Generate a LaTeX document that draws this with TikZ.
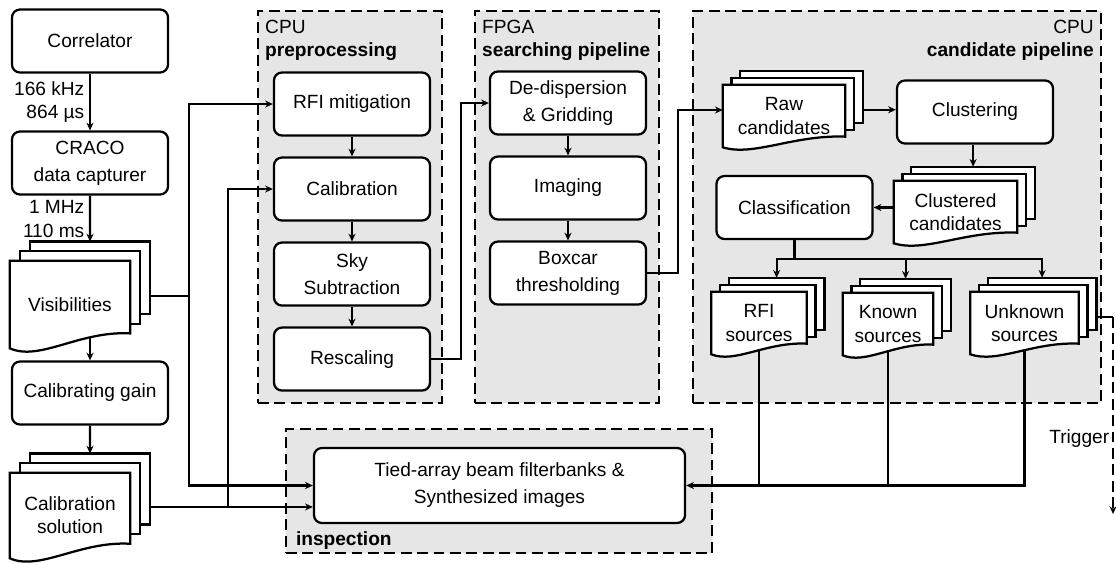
\documentclass[tikz,border=0pt]{standalone}
\usepackage{fontspec}
\setmainfont{Liberation Sans}
\usepackage{tikz}
\usetikzlibrary{arrows.meta, fit, calc}
\definecolor{groupgrey}{HTML}{E6E6E6}
\pgfdeclarelayer{bg}
\pgfdeclarelayer{wires}
\pgfdeclarelayer{docs}
\pgfsetlayers{bg,wires,docs,main}
\tikzstyle{box} = [rectangle, rounded corners=0.2cm, minimum width=3.9cm, minimum height=1.575cm, text centered, align=center, draw=black, line width=1.6pt, fill=white, font=\fontsize{13.6}{19.2}\selectfont]
\tikzstyle{doc} = [rectangle, inner sep=0pt, text centered, align=center, font=\fontsize{13.6}{16.5}\selectfont]
\tikzstyle{sheet} = [draw=black, fill=white, line width=1.6pt]
\tikzstyle{group} = [rectangle, draw=black, fill=groupgrey, line width=1.5pt, dash pattern=on 0.27cm off 0.14cm, inner sep=0pt]
\tikzstyle{grouplabel} = [inner xsep=0.2cm, inner ysep=0.25cm, font=\fontsize{13.6}{16}\selectfont]
\tikzstyle{rate} = [align=right, font=\fontsize{13.6}{17}\selectfont]
\tikzstyle{line} = [line width=1.45pt]
\tikzstyle{arrow} = [line width=1.45pt, -{Stealth[length=5.5pt,width=5pt]}]

% stack of three sheets behind a doc node, wavy bottom on the front one
% #1 node, #2 x step, #3 y step
\newcommand{\docstack}[3]{%
  \begin{pgfonlayer}{docs}
    \foreach \k in {2,1}
      \draw[sheet] let \p1=(#1.north west), \p2=(#1.south east), \n1={0.17*(\y1-\y2)} in
        (\x1+\k*#2,\y1+\k*#3) rectangle (\x2+\k*#2,\y2+\n1+\k*#3);
    \draw[sheet] let \p1=(#1.north west), \p2=(#1.south east), \n1={0.17*(\y1-\y2)}, \n2={\x2-\x1} in
      (\x1,\y1) -- (\x2,\y1) -- (\x2,\y2+\n1)
      .. controls (\x2-0.42*\n2,\y2+1.2*\n1) and (\x1+0.25*\n2,\y2-0.9*\n1) .. (\x1,\y2) -- cycle;
  \end{pgfonlayer}
  \path let \p1=(#1.north west), \p2=(#1.south east) in
    (\x1/2+\x2/2+2*#2,\y1+2*#3) coordinate (#1-top)
    (\x2+2*#2,\y1/2+\y2/2+0.1*\y1-0.1*\y2) coordinate (#1-east);
}

\begin{document}
\begin{tikzpicture}[x=0.025cm, y=-0.025cm, node distance=2.125cm]
  \useasboundingbox (0,0) rectangle (1116,562);

  % dashed groups
  \begin{pgfonlayer}{bg}
    \node (pre) [group, fit={(258,11) (442,403)}] {};
    \node (fpga) [group, fit={(475,11) (659,403)}] {};
    \node (cand) [group, fit={(693,11) (1101,403)}] {};
    \node (insp) [group, fit={(286,429) (712,553)}] {};
  \end{pgfonlayer}
  \node (prelbl) [grouplabel, anchor=north west, align=left] at (pre.north west) {CPU\\\textbf{preprocessing}};
  \node (fpgalbl) [grouplabel, anchor=north west, align=left] at (fpga.north west) {FPGA\\\textbf{searching pipeline}};
  \node (candlbl) [grouplabel, anchor=north east, align=right] at (cand.north east) {CPU\\\textbf{candidate pipeline}};
  \node (insplbl) [grouplabel, anchor=south west, inner xsep=0.27cm, inner ysep=0.1cm] at (insp.south west) {\textbf{inspection}};

  % input side
  \node (corr) [box] at (90,41) {Correlator};
  \node (craco) [box] at (90,163) {CRACO\\data capturer};
  \node (vis) [doc, minimum width=3cm, minimum height=2.175cm] at (70,304.5) {Visibilities};
  \node (gain) [box] at (90,393) {Calibrating gain};
  \node (sol) [doc, minimum width=3cm, minimum height=2.125cm] at (70,515.5) {Calibration\\solution};

  % preprocessing
  \node (rfi) [box] at (352,104) {RFI mitigation};
  \node (calib) [box, below of=rfi] {Calibration};
  \node (sky) [box, below of=calib] {Sky\\Subtraction};
  \node (resc) [box, below of=sky] {Rescaling};

  % searching pipeline
  \node (dedisp) [box] at (568,103) {De-dispersion\\\& Gridding};
  \node (imaging) [box, below of=dedisp] {Imaging};
  \node (boxcar) [box, below of=imaging] {Boxcar\\thresholding};

  % candidate pipeline
  \node (raw) [doc, minimum width=3.05cm, minimum height=1.55cm] at (784,116) {Raw\\candidates};
  \node (clust) [box] at (975,112) {Clustering};
  \node (clustered) [doc, minimum width=3.075cm, minimum height=1.55cm] at (955.5,212) {Clustered\\candidates};
  \node (classif) [box] at (794.5,207.5) {Classification};
  \node (rfisrc) [doc, minimum width=2.375cm, minimum height=1.55cm] at (759,323) {RFI\\sources};
  \node (knownsrc) [doc, minimum width=2.25cm, minimum height=1.55cm] at (888,324) {Known\\sources};
  \node (unknownsrc) [doc, minimum width=2.7cm, minimum height=1.55cm] at (1024.5,323) {Unknown\\sources};

  % inspection
  \node (tied) [box, minimum width=9.275cm, minimum height=1.875cm] at (499.5,485.5) {Tied-array beam filterbanks \&\\Synthesized images};

  \docstack{vis}{0.25cm}{0.24cm}
  \docstack{sol}{0.25cm}{0.24cm}
  \docstack{raw}{0.22cm}{0.175cm}
  \docstack{clustered}{0.22cm}{0.175cm}
  \docstack{rfisrc}{0.22cm}{0.175cm}
  \docstack{knownsrc}{0.22cm}{0.175cm}
  \docstack{unknownsrc}{0.22cm}{0.175cm}

  \begin{pgfonlayer}{wires}
    \draw [arrow] (corr) -- node[rate, left] {166 kHz\\864 µs} (craco);
    \draw [arrow] (craco) -- node[rate, left] {1 MHz\\110 ms} (vis-top);
    \draw [arrow] (vis.center -| gain.north) -- (gain);
    \draw [arrow] (gain) -- (sol-top);
    \draw [arrow] (vis-east) -- ++(39,0) coordinate (vsplit) |- (rfi.west);
    \draw [arrow] (vsplit) |- (tied.west);
    \draw [arrow] (sol-east) -- (sol-east -| tied.west);
    \draw [arrow] (sol-east) -- ++(78,0) |- (calib.west);

    \draw [arrow] (rfi) -- (calib);
    \draw [arrow] (calib) -- (sky);
    \draw [arrow] (sky) -- (resc);
    \draw [arrow] (resc.east) -- ++(30,0) |- (dedisp.west);

    \draw [arrow] (dedisp) -- (imaging);
    \draw [arrow] (imaging) -- (boxcar);
    \draw [arrow] (boxcar.east) -- ++(31,0) |- ([yshift=0.15cm]raw.west);

    \draw [arrow] (raw-east) -- (raw-east -| clust.west);
    \draw [arrow] (clustered-top |- clust.south) -- (clustered-top);
    \draw [arrow] (clustered.west |- classif.east) -- (classif.east);
    \draw [line] (classif.south) -- ++(0,19) coordinate (branch);
    \foreach \s in {rfisrc, knownsrc, unknownsrc}
      \draw [arrow] (branch) -| (\s-top);

    \draw [arrow] (unknownsrc.center) |- (tied.east);
    \draw [line] (rfisrc.center) -- (rfisrc.center |- tied.east);
    \draw [line] (knownsrc.center) -- (knownsrc.center |- tied.east);

    % trigger out of the unknown sources
    \coordinate (trigend) at (1113,514);
    \draw [line] (unknownsrc-east) -- (unknownsrc-east -| trigend);
    \draw [arrow, dash pattern=on 0.27cm off 0.14cm] (unknownsrc-east -| trigend) -- (trigend)
      node[pos=0.62, left, inner sep=2pt, font=\fontsize{13.6}{16}\selectfont] {Trigger};
  \end{pgfonlayer}
\end{tikzpicture}
\end{document}
